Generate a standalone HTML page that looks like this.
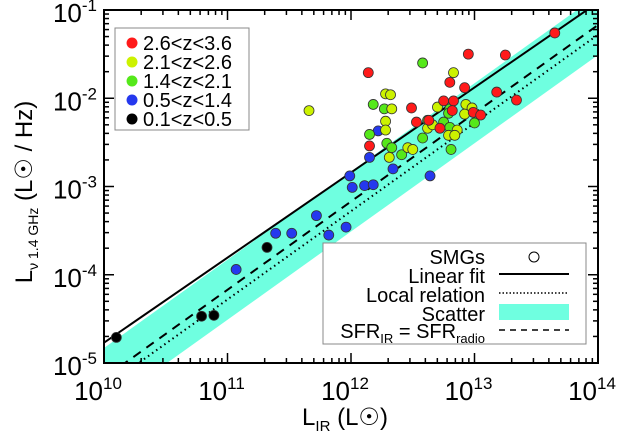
<!DOCTYPE html>
<html><head><meta charset="utf-8"><style>
body{margin:0;background:#fff;}
svg{display:block;font-family:"Liberation Sans",sans-serif;}
</style></head><body>
<svg id="chart" width="624" height="440">
<defs><clipPath id="clip"><rect x="104" y="10" width="494" height="353"/></clipPath></defs>
<g id="band" clip-path="url(#clip)"></g>
<g id="lines" clip-path="url(#clip)"></g>
<g id="pts"></g>
<rect x="104" y="10" width="494" height="353" fill="none" stroke="#000" stroke-width="2"/>
<g id="axes"></g>
<text x="345" y="425" font-size="24" text-anchor="middle">L<tspan font-size="15" dy="6">IR</tspan><tspan dy="-6"> (L</tspan><tspan>☉</tspan>)</text>
<text transform="translate(32,192) rotate(-90)" font-size="24" text-anchor="middle">L<tspan font-size="14" dy="6">ν 1.4 GHz</tspan><tspan dy="-6"> (L</tspan><tspan>☉</tspan> / Hz)</text>
<g>
<rect x="115" y="28" width="134" height="102" fill="#fff" stroke="#888" stroke-width="1"/>
<g id="zleg"></g>
</g>
<g>
<rect x="323" y="243" width="263" height="101" fill="#fff" stroke="#888" stroke-width="1"/>
<g font-size="20" text-anchor="end">
<text x="485" y="264">SMGs</text>
<text x="485" y="283">Linear fit</text>
<text x="485" y="302">Local relation</text>
<text x="485" y="321">Scatter</text>
<text x="485" y="338">SFR<tspan font-size="13" dy="5">IR</tspan><tspan dy="-5"> = SFR</tspan><tspan font-size="13" dy="5">radio</tspan></text>
</g>
<circle cx="534" cy="257" r="5" fill="#fff" stroke="#000"/>
<line x1="499" y1="274" x2="569" y2="274" stroke="#000" stroke-width="2"/>
<line x1="499" y1="293" x2="569" y2="293" stroke="#000" stroke-width="1.5" stroke-dasharray="1.5,2"/>
<rect x="499" y="304" width="70" height="16" fill="#6fffe0"/>
<line x1="499" y1="330" x2="569" y2="330" stroke="#000" stroke-width="1.5" stroke-dasharray="6,5"/>
</g>
</svg>
<script>
const xTickExp=[10,11,12,13,14];
const yTickExp=[-1,-2,-3,-4,-5];
const zLabels=["2.6<z<3.6","2.1<z<2.6","1.4<z<2.1","0.5<z<1.4","0.1<z<0.5"];
const zColors=["#ff1a1a","#ccf200","#55e81a","#2538ee","#000000"];
const redX=[13.65,12.95,13.25,12.14,12.80,12.92,13.18,13.34,12.75,12.83,12.49,12.82,12.99,13.05,12.53,12.63,12.72,12.15];
const redY=[-1.26,-1.50,-1.51,-1.71,-1.82,-1.88,-1.93,-2.02,-2.03,-2.03,-2.11,-2.14,-2.16,-2.19,-2.27,-2.25,-2.34,-2.54];
const yelX=[12.83,12.28,12.32,12.33,12.70,12.93,12.98,12.92,12.28,12.28,12.62,12.66,12.86,12.79,12.84,12.46,12.50,12.31,11.66];
const yelY=[-1.71,-1.95,-1.96,-2.12,-2.10,-2.07,-2.11,-2.18,-2.26,-2.36,-2.34,-2.30,-2.36,-2.42,-2.42,-2.56,-2.58,-2.67,-2.14];
const grnX=[12.58,12.18,12.27,12.80,12.79,12.62,12.75,13.00,12.80,12.15,12.58,12.29,12.33,12.41,12.81];
const grnY=[-1.60,-2.07,-2.12,-2.12,-2.17,-2.25,-2.27,-2.28,-2.33,-2.41,-2.45,-2.51,-2.56,-2.64,-2.58];
const bluX=[12.22,12.15,12.34,12.64,11.99,12.01,12.11,12.18,11.72,11.96,11.82,11.52,11.39,11.07];
const bluY=[-2.37,-2.67,-2.80,-2.88,-2.88,-3.01,-2.99,-2.98,-3.33,-3.46,-3.55,-3.53,-3.53,-3.94];
const blkX=[10.10,11.32,10.79,10.89];
const blkY=[-4.71,-3.69,-4.47,-4.46];
const fitSlope=0.964, fitIntercept=-14.41;
const localOffset=-15.28, sfrOffset=-15.17, scatterHalf=0.34;

const X0=104,X1=598,Y0=10,Y1=363;
const sx=v=>X0+(v-10)/4*(X1-X0);
const sy=v=>Y0+(-1-v)/4*(Y1-Y0);
const NS="http://www.w3.org/2000/svg";
function mk(t,a,p){const e=document.createElementNS(NS,t);for(const k in a)e.setAttribute(k,a[k]);p.appendChild(e);return e;}

const band=document.getElementById('band');
const bp=mk('polygon',{points:[[9.5,sfrOffset+scatterHalf],[14.5,sfrOffset+scatterHalf],[14.5,sfrOffset-scatterHalf],[9.5,sfrOffset-scatterHalf]].map(p=>sx(p[0])+','+sy(p[0]+p[1])).join(' '),fill:'#6fffe0'},band);


const lg=document.getElementById('lines');
const l1=mk('line',{x1:sx(9.5),y1:sy(fitIntercept+fitSlope*9.5),x2:sx(14.5),y2:sy(fitIntercept+fitSlope*14.5),stroke:'#000','stroke-width':2},lg);


const l2=mk('line',{x1:sx(9.5),y1:sy(9.5+localOffset),x2:sx(14.5),y2:sy(14.5+localOffset),stroke:'#000','stroke-width':2,'stroke-dasharray':'1.5,3.5'},lg);


const l3=mk('line',{x1:sx(9.5),y1:sy(9.5+sfrOffset),x2:sx(14.5),y2:sy(14.5+sfrOffset),stroke:'#000','stroke-width':2,'stroke-dasharray':'9,7'},lg);


const pg=document.getElementById('pts');
const series=[[blkX,blkY,4],[bluX,bluY,3],[grnX,grnY,2],[yelX,yelY,1],[redX,redY,0]];
series.forEach(([xs,ys,ci])=>{xs.forEach((x,i)=>{
 const c=mk('circle',{cx:sx(x),cy:sy(ys[i]),r:5,fill:zColors[ci],stroke:'#333','stroke-width':0.8},pg);
 
 
});});
const ax=document.getElementById('axes');
for(let d=10;d<14;d++)for(let m=1;m<10;m++){
 const x=sx(d+Math.log10(m));const L=m===1?10:5;
 mk('line',{x1:x,y1:Y1,x2:x,y2:Y1-L,stroke:'#000','stroke-width':1.5},ax);
 mk('line',{x1:x,y1:Y0,x2:x,y2:Y0+L,stroke:'#000','stroke-width':1.5},ax);
}
for(let d=-5;d<-1+0.5;d++)for(let m=1;m<10;m++){
 if(d===-1&&m>1)break;
 const y=sy(d+Math.log10(m));const L=m===1?10:5;
 mk('line',{x1:X0,y1:y,x2:X0+L,y2:y,stroke:'#000','stroke-width':1.5},ax);
 mk('line',{x1:X1,y1:y,x2:X1-L,y2:y,stroke:'#000','stroke-width':1.5},ax);
}
xTickExp.forEach(e=>{
 const t=mk('text',{x:sx(e)-6,y:400,'font-size':26,'text-anchor':'middle'},ax);
 
 
 t.innerHTML='10<tspan font-size="17" dy="-11">'+e+'</tspan>';
});
yTickExp.forEach(e=>{
 const t=mk('text',{x:97,y:sy(e)+12,'font-size':26,'text-anchor':'end'},ax);
 
 
 t.innerHTML='10<tspan font-size="17" dy="-11">'+e+'</tspan>';
});
const zl=document.getElementById('zleg');
zLabels.forEach((s,i)=>{
 const y=43+i*19;
 const c=mk('circle',{cx:132,cy:y,r:5.5,fill:zColors[i]},zl);
 
 
 const t=mk('text',{x:143,y:y+7,'font-size':20},zl);
 
 
 t.textContent=s;
});
</script>
</body></html>
